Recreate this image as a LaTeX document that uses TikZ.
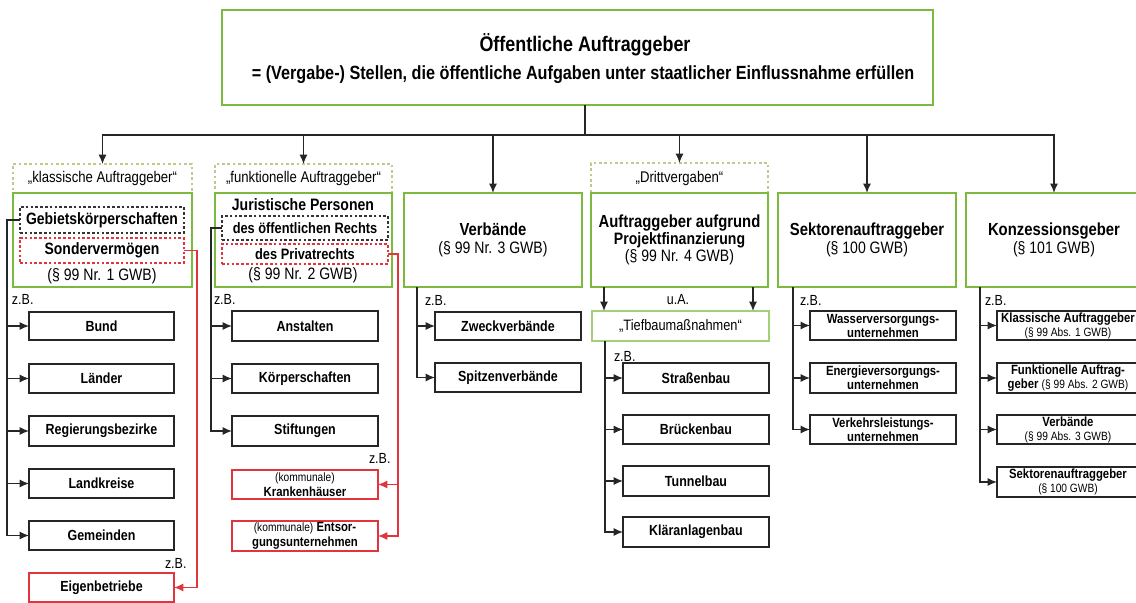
\documentclass[tikz,border=0pt]{standalone}
\usepackage{fontspec}
\setmainfont{Liberation Sans}[FakeStretch=0.85]
\usetikzlibrary{arrows.meta}
\definecolor{gr}{HTML}{7CBA3F}
\definecolor{lgr}{HTML}{B9CC8E}
\definecolor{rd}{HTML}{E2343C}
\newcommand\fsz[2]{\fontsize{#1}{#2}\selectfont}
\begin{document}
\begin{tikzpicture}[x=0.75pt,y=-0.75pt,
  every node/.style={inner sep=0pt,outer sep=0pt},
  sz/.style 2 args={minimum width={#1*0.75pt},minimum height={#2*0.75pt}},
  greenbox/.style={draw=gr,line width=2.2pt},
  lbl/.style={draw=lgr,line width=1.2pt,dash pattern=on 2pt off 2pt,font=\fsz{11.6pt}{13pt}},
  blackdash/.style={draw=black!80,line width=1.3pt,dash pattern=on 2pt off 1.6pt},
  reddash/.style={draw=rd,line width=1.3pt,dash pattern=on 2pt off 1.6pt},
  item/.style={draw=black!85,line width=1.6pt,font=\bfseries\fsz{11pt}{13pt}},
  smallitem/.style={draw=black!85,line width=1.6pt,align=center,font=\bfseries\fsz{10pt}{10.5pt}},
  reditem/.style={draw=rd,line width=1pt,align=center,font=\bfseries\fsz{10pt}{11pt}},
  head/.style={align=center,font=\fsz{12.4pt}{13pt}},
  zb/.style={anchor=west,font=\fsz{11pt}{12pt}},
  conn/.style={line width=1pt,draw=black!85},
  rconn/.style={line width=0.9pt,draw=rd},
  arr/.style={-{Latex[length=7pt,width=6pt]}}
]
\useasboundingbox (0,0) rectangle (1136,603);

% top box
\node[greenbox,sz={711}{95}] (top) at (577.5,57.5) {};
\node[font=\bfseries\fsz{15.8pt}{17pt}] (title) at (585,45) {Öffentliche Auftraggeber};
\node[font=\bfseries\fsz{14.3pt}{16pt}] (subtitle) at (583,75) {= (Vergabe-) Stellen, die öffentliche Aufgaben unter staatlicher Einflussnahme erfüllen};
\coordinate (stem) at (585,105);

% column 1
\node[lbl,sz={179}{29}] (klab) at (102.5,178.5) {„klassische Auftraggeber“};
\node[greenbox,sz={179}{94}] (kbox1) at (102.5,240) {};
\node[blackdash,sz={164}{26},font=\bfseries\fsz{12.3pt}{13pt}] (gebiet) at (102,220) {Gebietskörperschaften};
\node[reddash,sz={164}{25},font=\bfseries\fsz{12.3pt}{13pt}] (sonder) at (102,250.5) {Sondervermögen};
\node[head] (k1gwb) at (102,276) {(§ 99 Nr. 1 GWB)};
\node[zb] (zb1) at (12,299) {z.B.};
\node[item,sz={145}{28}] (bund) at (101.5,326) {Bund};
\node[item,sz={145}{29}] (laender) at (101.5,378.5) {Länder};
\node[item,sz={145}{30}] (regbez) at (101.5,431) {Regierungsbezirke};
\node[item,sz={145}{29}] (landkr) at (101.5,483.5) {Landkreise};
\node[item,sz={145}{29}] (gemeind) at (101.5,535.5) {Gemeinden};
\node[zb] (zb1b) at (165,563) {z.B.};
\node[draw=rd,line width=1pt,sz={145}{29},font=\bfseries\fsz{11pt}{13pt}] (eigen) at (101.5,587.5) {Eigenbetriebe};

% column 2
\node[lbl,sz={177}{29}] (flab) at (303.5,178.5) {„funktionelle Auftraggeber“};
\node[greenbox,sz={177}{94}] (fbox) at (303.5,240) {};
\node[font=\bfseries\fsz{12.4pt}{13pt}] (jur) at (303,205) {Juristische Personen};
\node[blackdash,sz={166}{24},font=\bfseries\fsz{11.3pt}{12pt}] (oeff) at (305,228) {des öffentlichen Rechts};
\node[reddash,sz={166}{20},font=\bfseries\fsz{11.3pt}{12pt}] (priv) at (305,254) {des Privatrechts};
\node[head] (f1gwb) at (303,275) {(§ 99 Nr. 2 GWB)};
\node[zb] (zb2) at (214,299) {z.B.};
\node[item,sz={146}{30}] (anst) at (305,326) {Anstalten};
\node[item,sz={146}{29}] (koerp) at (305,378.5) {Körperschaften};
\node[item,sz={146}{30}] (stift) at (305,431) {Stiftungen};
\node[zb] (zb2b) at (369,458) {z.B.};
\node[reditem,sz={146}{29}] (kranken) at (305,484.5) {\fsz{9pt}{11pt}\mdseries(kommunale)\\Krankenhäuser};
\node[reditem,sz={146}{30}] (entsorg) at (305,536) {\mdseries\fsz{9pt}{11pt}(kommunale)\bfseries\fsz{10pt}{11pt}~Entsor-\\gungsunternehmen};

% column 3
\node[greenbox,sz={178}{94}] (vbox) at (493,240) {};
\node[head] (vtext) at (493,240) {\bfseries\fsz{13.1pt}{13pt}Verbände\\(§ 99 Nr. 3 GWB)};
\node[zb] (zb3) at (425,300) {z.B.};
\node[item,sz={146}{28}] (zweck) at (508,326) {Zweckverbände};
\node[item,sz={146}{29}] (spitz) at (508,377.5) {Spitzenverbände};

% column 4
\node[lbl,sz={177}{30}] (dlab) at (679.5,178) {„Drittvergaben“};
\node[greenbox,sz={177}{94}] (dbox) at (679.5,240) {};
\node[head] (dtext) at (679.5,240) {\bfseries\fsz{13.1pt}{13.5pt}Auftraggeber aufgrund\\\bfseries Projektfinanzierung\\(§ 99 Nr. 4 GWB)};
\node[font=\fsz{11pt}{12pt}] (ua) at (678,300) {u.A.};
\node[draw=gr!70,line width=0.8pt,sz={177}{30},font=\fsz{11.3pt}{12pt}] (tief) at (680.5,326) {„Tiefbaumaßnahmen“};
\node[zb] (zb4) at (614,356) {z.B.};
\node[item,sz={146}{30}] (strasse) at (696,378) {Straßenbau};
\node[item,sz={146}{29}] (bruecke) at (696,429.5) {Brückenbau};
\node[item,sz={146}{30}] (tunnel) at (696,481) {Tunnelbau};
\node[item,sz={146}{30}] (klaer) at (696,532) {Kläranlagenbau};

% column 5
\node[greenbox,sz={178}{94}] (sbox) at (867,240) {};
\node[head] (stext) at (867,240) {\bfseries\fsz{13.1pt}{13pt}Sektorenauftraggeber\\(§ 100 GWB)};
\node[zb] (zb5) at (800,300) {z.B.};
\node[smallitem,sz={146}{29}] (wasser) at (883,325.5) {Wasserversorgungs-\\unternehmen};
\node[smallitem,sz={146}{30}] (energie) at (883,378) {Energieversorgungs-\\unternehmen};
\node[smallitem,sz={146}{29}] (verkehr) at (883,429.5) {Verkehrsleistungs-\\unternehmen};

% column 6
\node[greenbox,sz={176}{94}] (kbox) at (1054,240) {};
\node[head] (ktext) at (1054,240) {\bfseries\fsz{13.1pt}{13pt}Konzessionsgeber\\(§ 101 GWB)};
\node[zb] (zb6) at (985,300) {z.B.};
\node[smallitem,sz={142}{29}] (kk1) at (1068,325.5) {Klassische Auftraggeber\\\mdseries\fsz{9pt}{10.5pt}(§ 99 Abs. 1 GWB)};
\node[smallitem,sz={142}{30}] (kk2) at (1068,378) {Funktionelle Auftrag-\\geber {\mdseries\fsz{9pt}{10.5pt}(§ 99 Abs. 2 GWB)}};
\node[smallitem,sz={142}{29}] (kk3) at (1068,429.5) {Verbände\\\mdseries\fsz{9pt}{10.5pt}(§ 99 Abs. 3 GWB)};
\node[smallitem,sz={142}{30}] (kk4) at (1068,482) {Sektorenauftraggeber\\\mdseries\fsz{9pt}{10.5pt}(§ 100 GWB)};

% top connectors
\foreach \t in {klab,flab,vbox,dlab,sbox,kbox}
  \draw[conn,arr] (stem) -- ++(0,30) -| (\t.north);

% column 1 connectors
\foreach \t in {bund,laender,regbez,landkr,gemeind}
  \draw[conn,arr] (gebiet.west) -- ++(-13,0) |- (\t.west);
\draw[rconn,arr] (sonder.east) -- ++(13,0) |- (eigen.east);

% column 2 connectors
\foreach \t in {anst,koerp,stift}
  \draw[conn,arr] (oeff.west) -- ++(-11,0) |- (\t.west);
\foreach \t in {kranken,entsorg}
  \draw[rconn,arr] (priv.east) -- ++(10,0) |- (\t.east);

% column 3
\coordinate (vv) at ([xshift=9.75pt]vbox.south west);
\foreach \t in {zweck,spitz}
  \draw[conn,arr] (vv) |- (\t.west);

% column 4
\coordinate (da) at ([xshift=9.75pt]dbox.south west);
\coordinate (db) at ([xshift=-11.25pt]dbox.south east);
\draw[conn,arr] (da) -- (da |- tief.north);
\draw[conn,arr] (db) -- (db |- tief.north);
\coordinate (tv) at ([xshift=9.75pt]tief.south west);
\foreach \t in {strasse,bruecke,tunnel,klaer}
  \draw[conn,arr] (tv) |- (\t.west);

% column 5
\coordinate (sv) at ([xshift=11.25pt]sbox.south west);
\foreach \t in {wasser,energie,verkehr}
  \draw[conn,arr] (sv) |- (\t.west);

% column 6
\coordinate (kv) at ([xshift=10.5pt]kbox.south west);
\foreach \t in {kk1,kk2,kk3,kk4}
  \draw[conn,arr] (kv) |- (\t.west);
\end{tikzpicture}
\end{document}
